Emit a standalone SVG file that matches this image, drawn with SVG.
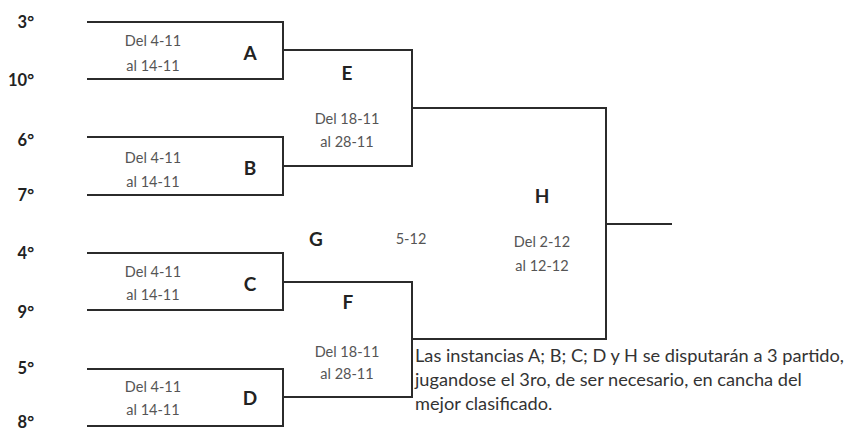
<svg xmlns="http://www.w3.org/2000/svg" width="853" height="432" viewBox="0 0 853 432">
<style>
.ln{fill:none;stroke:#2b2b2b;stroke-width:2;stroke-linecap:square}
.seed{font-family:Lato,"Liberation Sans",sans-serif;font-weight:bold;font-size:16.5px;fill:#222;text-anchor:end}
.ltr{font-family:Lato,"Liberation Sans",sans-serif;font-weight:bold;font-size:19px;fill:#222;text-anchor:middle}
.dt{font-family:Lato,"Liberation Sans",sans-serif;font-size:14.5px;fill:#555;text-anchor:middle}
.note{font-family:Lato,"Liberation Sans",sans-serif;font-size:18.2px;fill:#333}
</style>
<rect width="853" height="432" fill="#fff"/>
<g id="seeds">
<text class="seed" x="34" y="28">3°</text>
<text class="seed" x="34" y="86">10°</text>
<text class="seed" x="34" y="146">6°</text>
<text class="seed" x="34" y="201">7°</text>
<text class="seed" x="34" y="259">4°</text>
<text class="seed" x="34" y="318">9°</text>
<text class="seed" x="34" y="374">5°</text>
<text class="seed" x="34" y="428">8°</text>
</g>
<g id="A">
<path class="ln" d="M88 22H283V79H88"/>
<text class="dt" x="153" y="46">Del 4-11</text>
<text class="dt" x="153" y="71">al 14-11</text>
<text class="ltr" x="250" y="60">A</text>
</g>
<g id="B">
<path class="ln" d="M88 137H283V195H88"/>
<text class="dt" x="153" y="163">Del 4-11</text>
<text class="dt" x="153" y="187">al 14-11</text>
<text class="ltr" x="250" y="175">B</text>
</g>
<g id="C">
<path class="ln" d="M88 253H283V310H88"/>
<text class="dt" x="153" y="277">Del 4-11</text>
<text class="dt" x="153" y="300">al 14-11</text>
<text class="ltr" x="250" y="291">C</text>
</g>
<g id="D">
<path class="ln" d="M88 369H283V426H88"/>
<text class="dt" x="153" y="392">Del 4-11</text>
<text class="dt" x="153" y="415">al 14-11</text>
<text class="ltr" x="250" y="405">D</text>
</g>
<g id="E">
<path class="ln" d="M412 50V166"/>
<text class="ltr" x="347" y="80">E</text>
<text class="dt" x="347" y="124">Del 18-11</text>
<text class="dt" x="347" y="147">al 28-11</text>
</g>
<g id="F">
<path class="ln" d="M412 282V397"/>
<text class="ltr" x="348" y="309">F</text>
<text class="dt" x="347" y="357">Del 18-11</text>
<text class="dt" x="347" y="379">al 28-11</text>
</g>
<g id="G">
<text class="ltr" x="316" y="246">G</text>
<text class="dt" x="411" y="244">5-12</text>
</g>
<g id="H">
<path class="ln" d="M606 108V339"/>
<text class="ltr" x="542" y="203">H</text>
<text class="dt" x="542" y="247">Del 2-12</text>
<text class="dt" x="542" y="271">al 12-12</text>
</g>
<g id="connectors">
<path class="ln" d="M283 50H412"/>
<path class="ln" d="M283 166H412"/>
<path class="ln" d="M283 282H412"/>
<path class="ln" d="M283 397H412"/>
<path class="ln" d="M412 108H606"/>
<path class="ln" d="M412 339H606"/>
<path class="ln" d="M606 224H671"/>
</g>
<g id="note">
<text class="note" x="415" y="362">Las instancias A; B; C; D y H se disputarán a 3 partido,</text>
<text class="note" x="415" y="386">jugandose el 3ro, de ser necesario, en cancha del</text>
<text class="note" x="415" y="410">mejor clasificado.</text>
</g>
</svg>
